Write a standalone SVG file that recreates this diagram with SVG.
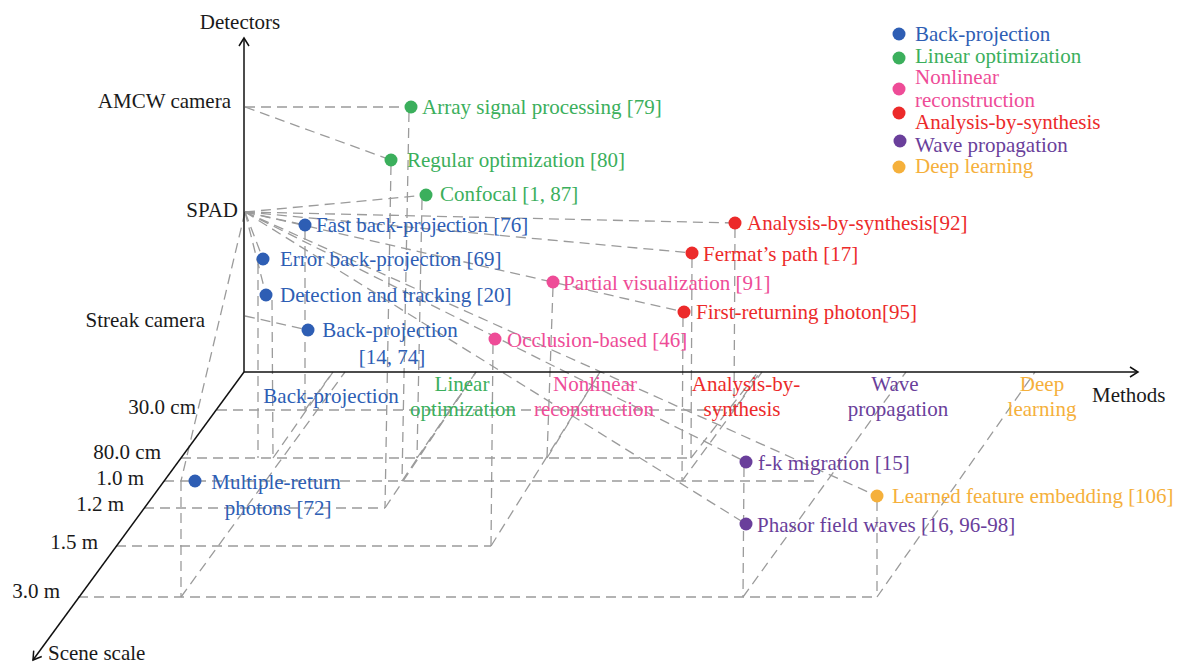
<svg xmlns="http://www.w3.org/2000/svg" width="1177" height="665" viewBox="0 0 1177 665">
<style>
text{font-family:"Liberation Serif","Times New Roman",serif;font-size:21px}
.k{fill:#1a1a1a}
.b{fill:#2E5EB4}.g{fill:#3BAF5C}.p{fill:#EE4C97}.r{fill:#EC2A2A}.v{fill:#6A3F9B}.o{fill:#F5B03B}
.m{text-anchor:middle}.e{text-anchor:end}
.d line{stroke:#9B9B9B;stroke-width:1.3;stroke-dasharray:10 6;fill:none}
.ax{stroke:#111;stroke-width:1.5;fill:none}
circle{r:6.5px}
</style>
<defs>
<marker id="arr" viewBox="-10 -6 12 12" refX="0" refY="0" markerWidth="12" markerHeight="12" markerUnits="userSpaceOnUse" orient="auto">
<path d="M-8,-5 L0,0 L-8,5" fill="none" stroke="#111" stroke-width="1.5"/>
</marker>
</defs>
<rect width="1177" height="665" fill="#fff"/>
<g id="connectors" class="d">
<line x1="245" y1="107" x2="411" y2="107"/>
<line x1="245" y1="107" x2="391" y2="160"/>
<line x1="245" y1="212" x2="426" y2="195"/>
<line x1="245" y1="212" x2="305" y2="225"/>
<line x1="245" y1="212" x2="735" y2="223"/>
<line x1="245" y1="212" x2="692" y2="253"/>
<line x1="245" y1="212" x2="684" y2="312"/>
<line x1="245" y1="212" x2="746" y2="462"/>
<line x1="245" y1="212" x2="877" y2="496"/>
<line x1="245" y1="212" x2="746" y2="524"/>
<line x1="245" y1="212" x2="263" y2="259"/>
<line x1="245" y1="212" x2="266" y2="295"/>
<line x1="245" y1="212" x2="181" y2="481"/>
<line x1="245" y1="316" x2="308" y2="330"/>
<line x1="409" y1="112" x2="402" y2="481"/>
<line x1="391" y1="165" x2="385" y2="508"/>
<line x1="422" y1="200" x2="417" y2="458"/>
<line x1="305" y1="230" x2="305" y2="410"/>
<line x1="258" y1="264" x2="258" y2="458"/>
<line x1="272" y1="300" x2="273" y2="458"/>
<line x1="181" y1="481" x2="181" y2="597"/>
<line x1="735" y1="228" x2="734" y2="410"/>
<line x1="692" y1="258" x2="691" y2="458"/>
<line x1="683" y1="317" x2="682" y2="481"/>
<line x1="553" y1="287" x2="547" y2="458"/>
<line x1="493" y1="344" x2="491" y2="546"/>
<line x1="744" y1="467" x2="743" y2="597"/>
<line x1="877" y1="501" x2="877" y2="597"/>
<line x1="217" y1="410" x2="734" y2="410"/>
<line x1="181" y1="458" x2="691" y2="458"/>
<line x1="164" y1="481" x2="815" y2="481"/>
<line x1="144" y1="508" x2="385" y2="508"/>
<line x1="116" y1="546" x2="491" y2="546"/>
<line x1="78" y1="597" x2="877" y2="597"/>
<line x1="402" y1="481" x2="476" y2="372"/>
<line x1="385" y1="508" x2="476" y2="372"/>
<line x1="417" y1="458" x2="476" y2="372"/>
<line x1="305" y1="410" x2="333" y2="372"/>
<line x1="273" y1="458" x2="333" y2="372"/>
<line x1="181" y1="597" x2="345" y2="372"/>
<line x1="734" y1="410" x2="760" y2="372"/>
<line x1="691" y1="458" x2="758" y2="372"/>
<line x1="682" y1="481" x2="762" y2="372"/>
<line x1="547" y1="458" x2="600" y2="372"/>
<line x1="491" y1="546" x2="600" y2="372"/>
<line x1="743" y1="597" x2="906" y2="372"/>
<line x1="877" y1="597" x2="1035" y2="372"/>
</g>
<g id="axes">
<line class="ax" x1="244" y1="372" x2="244" y2="38" marker-end="url(#arr)"/>
<line class="ax" x1="244" y1="372" x2="1138" y2="372" marker-end="url(#arr)"/>
<line class="ax" x1="244" y1="372" x2="33" y2="660" marker-end="url(#arr)"/>
<text class="k m" x="240" y="29">Detectors</text>
<text class="k e" x="231" y="108">AMCW camera</text>
<text class="k e" x="238" y="217">SPAD</text>
<text class="k e" x="205" y="327">Streak camera</text>
<text class="k" x="1092" y="402">Methods</text>
<text class="k" x="48" y="660">Scene scale</text>
<text class="k e" x="196" y="414">30.0 cm</text>
<text class="k e" x="161" y="459">80.0 cm</text>
<text class="k e" x="144" y="485">1.0 m</text>
<text class="k e" x="124" y="511">1.2 m</text>
<text class="k e" x="98" y="549">1.5 m</text>
<text class="k e" x="60" y="598">3.0 m</text>
</g>
<g id="categories">
<text class="b m" x="331" y="403">Back-projection</text>
<text class="g m" x="462" y="391">Linear</text>
<text class="g m" x="463" y="416">optimization</text>
<text class="p m" x="595" y="391">Nonlinear</text>
<text class="p m" x="594" y="416">reconstruction</text>
<text class="r m" x="746" y="391">Analysis-by-</text>
<text class="r m" x="742" y="416">synthesis</text>
<text class="v m" x="895" y="391">Wave</text>
<text class="v m" x="898" y="416">propagation</text>
<text class="o m" x="1042" y="391">Deep</text>
<text class="o m" x="1042" y="416">learning</text>
</g>
<g id="n-array"><circle class="g" cx="411" cy="107" r="6.5"/><text class="g" x="422" y="114">Array signal processing [79]</text></g>
<g id="n-regular"><circle class="g" cx="391" cy="160" r="6.5"/><text class="g" x="407" y="167">Regular optimization [80]</text></g>
<g id="n-confocal"><circle class="g" cx="426" cy="195" r="6.5"/><text class="g" x="440" y="201">Confocal [1, 87]</text></g>
<g id="n-fastbp"><circle class="b" cx="305" cy="225" r="6.5"/><text class="b" x="316" y="232">Fast back-projection [76]</text></g>
<g id="n-errorbp"><circle class="b" cx="263" cy="259" r="6.5"/><text class="b" x="280" y="266">Error back-projection [69]</text></g>
<g id="n-detection"><circle class="b" cx="266" cy="295" r="6.5"/><text class="b" x="280" y="302">Detection and tracking [20]</text></g>
<g id="n-bp"><circle class="b" cx="308" cy="330" r="6.5"/><text class="b m" x="390" y="337">Back-projection</text><text class="b m" x="392" y="364">[14, 74]</text></g>
<g id="n-multiple"><circle class="b" cx="195" cy="481" r="6.5"/><text class="b m" x="276" y="489">Multiple-return</text><text class="b m" x="278" y="515">photons [72]</text></g>
<g id="n-abs"><circle class="r" cx="735" cy="223" r="6.5"/><text class="r" x="747" y="230">Analysis-by-synthesis[92]</text></g>
<g id="n-fermat"><circle class="r" cx="692" cy="253" r="6.5"/><text class="r" x="703" y="261">Fermat’s path [17]</text></g>
<g id="n-first"><circle class="r" cx="684" cy="312" r="6.5"/><text class="r" x="696" y="319">First-returning photon[95]</text></g>
<g id="n-partial"><circle class="p" cx="553" cy="282" r="6.5"/><text class="p" x="563" y="290">Partial visualization [91]</text></g>
<g id="n-occlusion"><circle class="p" cx="495" cy="339" r="6.5"/><text class="p" x="507" y="347">Occlusion-based [46]</text></g>
<g id="n-fk"><circle class="v" cx="746" cy="462" r="6.5"/><text class="v" x="758" y="470">f-k migration [15]</text></g>
<g id="n-phasor"><circle class="v" cx="746" cy="524" r="6.5"/><text class="v" x="757" y="532">Phasor field waves [16, 96-98]</text></g>
<g id="n-learned"><circle class="o" cx="877" cy="496" r="6.5"/><text class="o" x="892" y="503">Learned feature embedding [106]</text></g>
<g id="legend">
<circle class="b" cx="899" cy="34" r="6.5"/><text class="b" x="915" y="41">Back-projection</text>
<circle class="g" cx="899" cy="58" r="6.5"/><text class="g" x="915" y="63">Linear optimization</text>
<circle class="p" cx="899" cy="89" r="6.5"/><text class="p" x="915" y="84">Nonlinear</text><text class="p" x="915" y="107">reconstruction</text>
<circle class="r" cx="899" cy="113" r="6.5"/><text class="r" x="915" y="129">Analysis-by-synthesis</text>
<circle class="v" cx="900" cy="141" r="6.5"/><text class="v" x="915" y="152">Wave propagation</text>
<circle class="o" cx="899" cy="167" r="6.5"/><text class="o" x="915" y="173">Deep learning</text>
</g>
</svg>
